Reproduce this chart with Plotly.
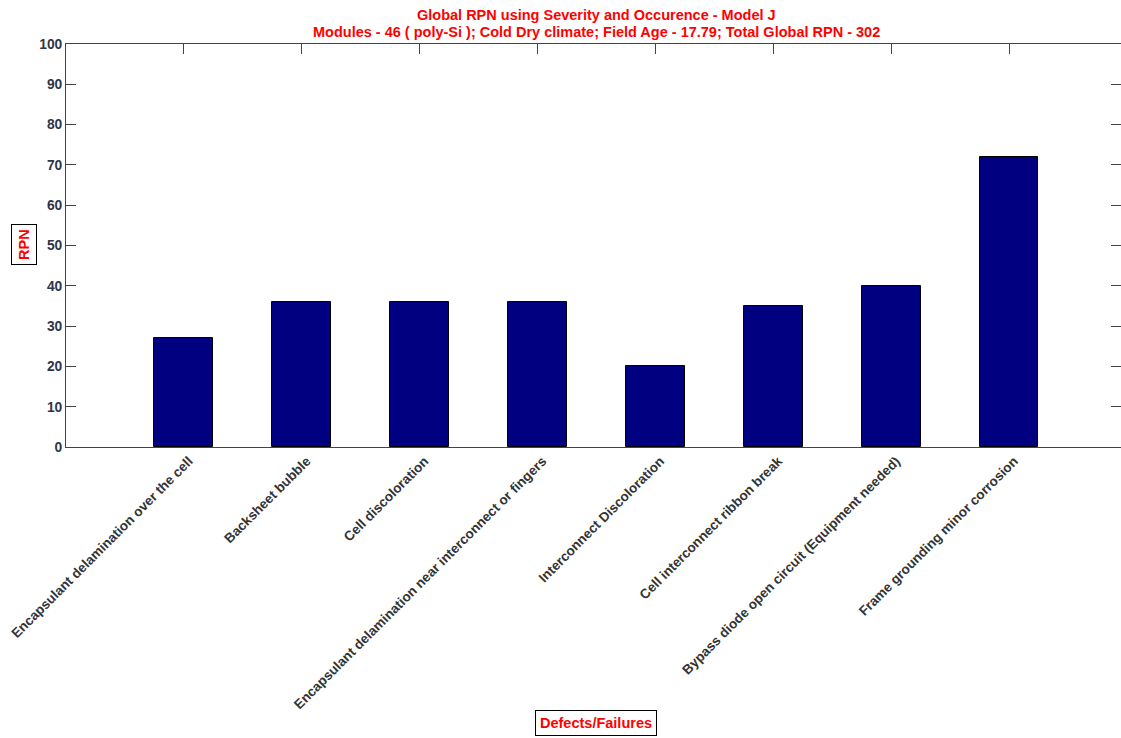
import plotly.graph_objects as go

categories = [
    "Encapsulant delamination over the cell",
    "Backsheet bubble",
    "Cell discoloration",
    "Encapsulant delamination near interconnect or fingers",
    "Interconnect Discoloration",
    "Cell interconnect ribbon break",
    "Bypass diode open circuit (Equipment needed)",
    "Frame grounding minor corrosion",
]
rpn_values = [27, 36, 36, 36, 20, 35, 40, 72]
positions = list(range(1, len(categories) + 1))
y_ticks = list(range(0, 101, 10))

title_line1 = "Global RPN using Severity and Occurence - Model J"
title_line2 = "Modules - 46 ( poly-Si ); Cold Dry climate; Field Age - 17.79; Total Global RPN - 302"

FONT = "Liberation Sans, Arial, sans-serif"
AXIS_COLOR = "#444444"
TICK_FONT_COLOR = "#2e3548"
RED_FONT = dict(family=FONT, size=14.5, color="#ff0000", weight="bold")

PLOT_TOP, PLOT_BOTTOM = 44, 447
PLOT_H = PLOT_BOTTOM - PLOT_TOP

fig = go.Figure()
fig.add_trace(go.Bar(
    x=positions, y=rpn_values, width=0.5,
    marker=dict(color="#000080", line=dict(color="black", width=1)),
    showlegend=False, hoverinfo="x+y",
))
# invisible trace for the top axis (category ticks)
fig.add_trace(go.Scatter(x=positions, y=[None] * len(positions), xaxis="x2",
                         mode="markers", showlegend=False, hoverinfo="skip"))

x_range = [0, 8.95]

def py(pixel_y):
    """paper y coordinate for a pixel row"""
    return (PLOT_BOTTOM - pixel_y) / PLOT_H

fig.update_layout(
    width=1121, height=738,
    margin=dict(l=66, r=0, t=PLOT_TOP, b=738 - PLOT_BOTTOM),
    paper_bgcolor="white", plot_bgcolor="white",
    font=dict(family=FONT, size=12, color=TICK_FONT_COLOR),
    bargap=0,
    xaxis=dict(
        range=x_range, tickmode="array", tickvals=positions, ticktext=categories,
        tickangle=-45, ticks="", showgrid=False, zeroline=False,
        showline=True, linecolor=AXIS_COLOR, linewidth=1,
        ticklabelshift=5,
        tickfont=dict(family=FONT, size=13.5, color="#333333", weight="bold"),
    ),
    xaxis2=dict(
        range=x_range, overlaying="x", side="top", tickmode="array",
        tickvals=positions, ticks="inside", ticklen=10, tickcolor=AXIS_COLOR,
        showticklabels=False, showgrid=False, zeroline=False,
        showline=True, linecolor=AXIS_COLOR, linewidth=1,
    ),
    yaxis=dict(
        range=[0, 100], tickmode="array", tickvals=y_ticks,
        ticks="inside", ticklen=10, tickcolor=AXIS_COLOR,
        showgrid=False, zeroline=False, showline=True, linecolor=AXIS_COLOR,
        linewidth=1, mirror="ticks",
        tickfont=dict(family=FONT, size=13.8, color=TICK_FONT_COLOR, weight="bold"),
    ),
    annotations=[
        dict(text=title_line1, xref="x", yref="paper", x=4.5, y=py(14.5),
             xanchor="center", yanchor="middle", showarrow=False, font=RED_FONT),
        dict(text=title_line2, xref="x", yref="paper", x=4.5, y=py(32),
             xanchor="center", yanchor="middle", showarrow=False, font=RED_FONT),
        dict(text="RPN", xref="paper", yref="paper", x=0, xshift=-(66 - 23.5),
             y=py(244.5), xanchor="center", yanchor="middle",
             textangle=-90, showarrow=False, bordercolor="black", borderwidth=1,
             borderpad=4, bgcolor="white", font=RED_FONT),
        dict(text="Defects/Failures", xref="x", yref="paper", x=4.5,
             y=py(723), xanchor="center", yanchor="middle",
             showarrow=False, bordercolor="black", borderwidth=1,
             borderpad=4, bgcolor="white", font=RED_FONT),
    ],
)

fig.write_html("out.html")
